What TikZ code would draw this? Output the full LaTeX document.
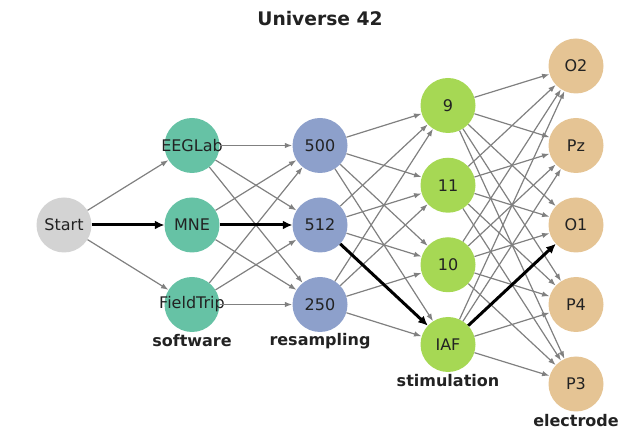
\documentclass[tikz,border=0pt]{standalone}
\usepackage{fontspec}
\setmainfont{DejaVu Sans}
\usetikzlibrary{arrows.meta}
\definecolor{cStart}{HTML}{D3D3D3}
\definecolor{cSoft}{HTML}{66C2A5}
\definecolor{cRes}{HTML}{8DA0CB}
\definecolor{cStim}{HTML}{A6D854}
\definecolor{cElec}{HTML}{E5C494}
\definecolor{edgegray}{HTML}{808080}
\definecolor{txt}{HTML}{222222}
\tikzset{
  vtx/.style={circle, minimum size=55pt, inner sep=0pt, fill=#1},
  vtxtext/.style={font=\fontsize{16}{19}\selectfont, text=txt},
  edge/.style={draw=edgegray, line width=1.2pt, -{Latex[length=7.5pt,width=5.5pt]}},
  hot/.style={draw=black, line width=3pt, -{Latex[length=9.5pt,width=9pt]}},
  grp/.style={font=\fontsize{16}{19}\selectfont\bfseries, text=txt},
  ttl/.style={font=\fontsize{18.7}{22}\selectfont\bfseries, text=txt},
}
\begin{document}
\begin{tikzpicture}[x=1pt,y=1pt]
\useasboundingbox (0,0) rectangle (640,439);
\node[ttl] (title) at (320,420) {Universe 42};
% nodes
\node[vtx=cStart, label={[vtxtext]center:Start}] (start) at (64,214) {};
\node[vtx=cSoft, label={[vtxtext]center:EEGLab}] (eeglab) at (192,293.5) {};
\node[vtx=cSoft, label={[vtxtext]center:MNE}] (mne) at (192,214) {};
\node[vtx=cSoft, label={[vtxtext]center:FieldTrip}] (fieldtrip) at (192,134.5) {};
\node[vtx=cRes, label={[vtxtext]center:500}] (r500) at (320,293.5) {};
\node[vtx=cRes, label={[vtxtext]center:512}] (r512) at (320,214) {};
\node[vtx=cRes, label={[vtxtext]center:250}] (r250) at (320,134.5) {};
\node[vtx=cStim, label={[vtxtext]center:9}] (s9) at (448,333.5) {};
\node[vtx=cStim, label={[vtxtext]center:11}] (s11) at (448,253.75) {};
\node[vtx=cStim, label={[vtxtext]center:10}] (s10) at (448,174.25) {};
\node[vtx=cStim, label={[vtxtext]center:IAF}] (iaf) at (448,94.5) {};
\node[vtx=cElec, label={[vtxtext]center:O2}] (o2) at (576,373) {};
\node[vtx=cElec, label={[vtxtext]center:Pz}] (pz) at (576,293.5) {};
\node[vtx=cElec, label={[vtxtext]center:O1}] (o1) at (576,214) {};
\node[vtx=cElec, label={[vtxtext]center:P4}] (p4) at (576,134.5) {};
\node[vtx=cElec, label={[vtxtext]center:P3}] (p3) at (576,55) {};
% group labels
\node[grp] (lsoft) at (192,98) {software};
\node[grp] (lres) at (320,98) {resampling};
\node[grp] (lstim) at (448,58) {stimulation};
\node[grp] (lelec) at (576,18) {electrode};
% edges
\foreach \t in {eeglab,mne,fieldtrip} \draw[edge] (start) -- (\t);
\foreach \s in {eeglab,mne,fieldtrip}{\foreach \t in {r500,r512,r250} \draw[edge] (\s) -- (\t);}
\foreach \s in {r500,r512,r250}{\foreach \t in {s9,s11,s10,iaf} \draw[edge] (\s) -- (\t);}
\foreach \s in {s9,s11,s10,iaf}{\foreach \t in {o2,pz,o1,p4,p3} \draw[edge] (\s) -- (\t);}
% highlighted path
\draw[hot] (start) -- (mne);
\draw[hot] (mne) -- (r512);
\draw[hot] (r512) -- (iaf);
\draw[hot] (iaf) -- (o1);
\end{tikzpicture}
\end{document}
